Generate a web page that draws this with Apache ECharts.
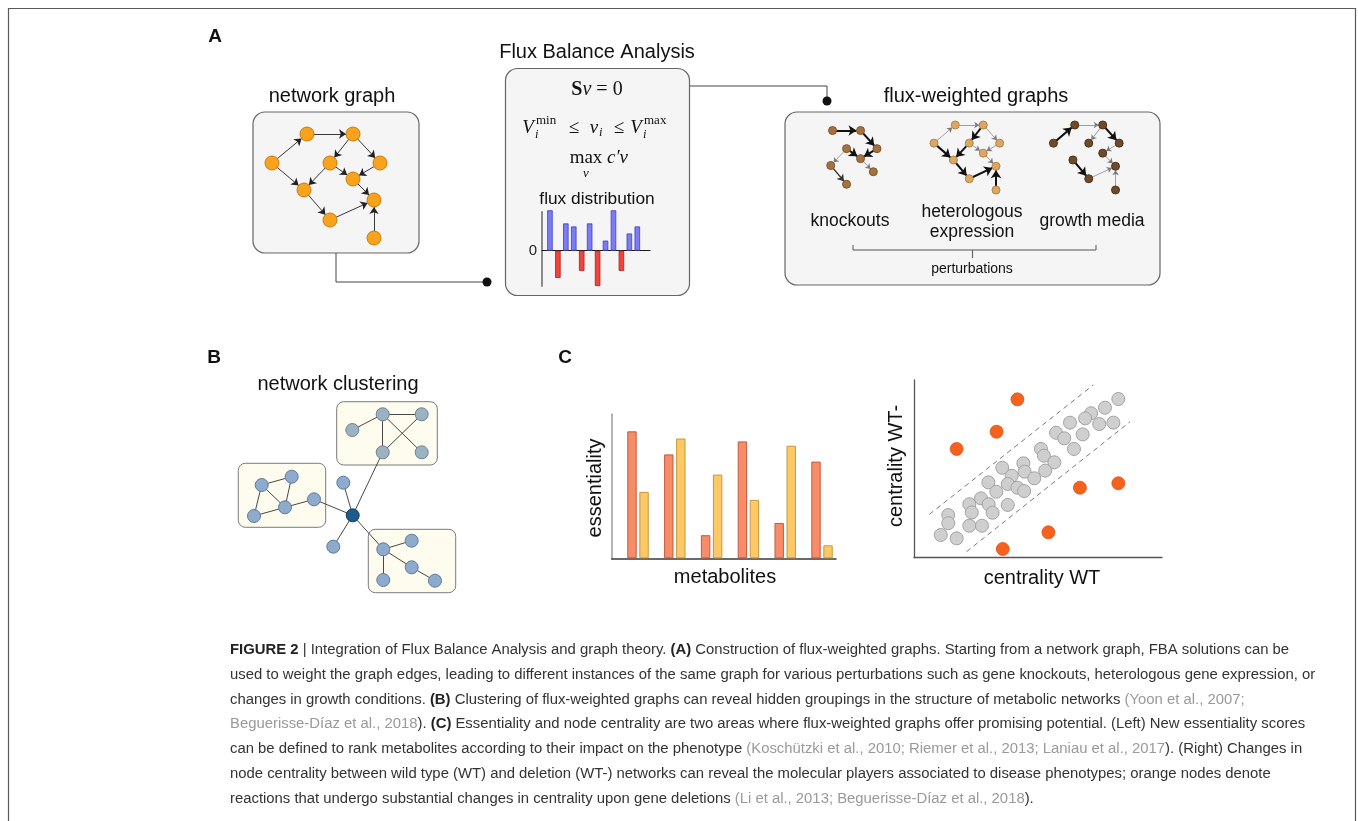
<!DOCTYPE html>
<html>
<head>
<meta charset="utf-8">
<script src="https://cdn.jsdelivr.net/npm/echarts@6.0.0/dist/echarts.min.js"></script>
<style>
html,body{margin:0;padding:0;background:#fff;overflow:hidden}
#chart{width:1358px;height:821px}
</style>
</head>
<body>
<div id="chart"></div>
<script>
// ---------------- data ----------------
// A: flux distribution (12 reactions)
const fluxReactions = [1,2,3,4,5,6,7,8,9,10,11,12];
const fluxValues = [40,-27,27,24,-20,27,-35,10,40,-20,17,24];

// C left: essentiality of 6 metabolites, two scores
const metabolites = [1,2,3,4,5,6];
const essentialityRed = [88,72,16,81,24.5,67];
const essentialityYellow = [46,83,58,40.5,78,9];

// C right: centrality WT vs WT-
const stableWT      = [82.4,77.0,71.4,69.0,62.9,74.7,80.4,57.3,60.6,68.0,64.5,51.2,52.4,56.6,44.1,35.6,44.6,39.4,52.9,48.5,30.0,37.8,41.7,44.4,33.2,27.0,22.3,30.1,37.8,23.3,31.7,13.8,13.8,22.3,27.4,10.8,17.2];
const stableWTminus = [89.3,84.4,81.3,78.4,76.0,75.2,76.0,70.3,67.2,69.4,61.2,61.2,57.4,53.7,53.1,50.6,48.4,46.1,49.0,44.7,42.4,41.5,39.4,37.5,37.1,33.4,30.1,30.1,29.7,25.5,25.3,24.0,19.4,18.0,18.0,12.8,10.9];
const changedWT      = [41.7,33.3,17.2,66.9,82.4,54.2,35.8];
const changedWTminus = [89.1,70.9,61.2,39.4,41.9,14.3,4.9];
const bandUpperWT = [6.2,72.3];
const bandUpperWTminus = [24.4,97.2];
const bandLowerWT = [21.2,87.1];
const bandLowerWTminus = [3.4,76.5];

// A: network graph layout (layout units)
const netNames = ['n1','n2','n3','n4','n5','n6','n7','n8','n9','n10'];
const netX = [19,54,100,77,127,100,51,121,77,121];
const netY = [51,22,22,51,51,67,78,88,108,126];
const netEdges = [['n1','n2'],['n2','n3'],['n3','n4'],['n3','n5'],['n4','n7'],['n4','n6'],['n5','n6'],['n1','n7'],['n6','n8'],['n7','n9'],['n9','n8'],['n10','n8']];

// A: flux-weighted graphs (edge weight 1 thin, 2 medium, 3 thick)
const knockoutNodes = ['n2','n3','n4','n5','n6','n7','n8','n9'];
const knockoutEdges = [['n2','n3',3],['n3','n5',3],['n4','n6',3],['n5','n6',3],['n4','n7',1],['n6','n8',1],['n7','n9',2]];
const heterologousNodes = netNames;
const heterologousEdges = [['n1','n2',1],['n2','n3',1],['n3','n4',3],['n3','n5',1],['n4','n7',3],['n4','n6',1],['n5','n6',1],['n1','n7',3],['n6','n8',1],['n7','n9',3],['n9','n8',3],['n10','n8',3]];
const growthNodes = netNames;
const growthEdges = [['n1','n2',3],['n2','n3',1],['n3','n4',1],['n3','n5',3],['n5','n6',1],['n6','n8',1],['n7','n9',3],['n9','n8',1],['n10','n8',1]];

// B: clustering network
const clusterNames = ['t1','t2','t3','t4','t5','l1','l2','l3','l4','l5','hub','f1','f2','b1','b2','b3','b4','b5'];
const clusterX = [122.3,152.7,191.7,152.7,191.7,31.7,61.7,24,55,84,122.7,113.3,103.3,153.3,181.7,181.7,205,153.3];
const clusterY = [40,24.3,24.3,62.3,62.3,95,86.7,126,117.3,109.3,125.3,92.7,156.7,159.3,150.7,177.3,190.7,190];
const clusterGroup = ['top','top','top','top','top','side','side','side','side','side','hub','side','side','side','side','side','side','side'];
const clusterEdges = [['t1','t2'],['t2','t3'],['t2','t4'],['t2','t5'],['t3','t4'],['l1','l2'],['l1','l3'],['l1','l4'],['l2','l4'],['l3','l4'],['l4','l5'],['hub','l5'],['hub','t4'],['hub','f1'],['hub','f2'],['hub','b1'],['b1','b2'],['b1','b3'],['b3','b4'],['b1','b5']];

// Caption
const captionLines = [
 '{b|FIGURE 2} | Integration of Flux Balance Analysis and graph theory. {b|(A)} Construction of flux-weighted graphs. Starting from a network graph, FBA solutions can be',
 'used to weight the graph edges, leading to different instances of the same graph for various perturbations such as gene knockouts, heterologous gene expression, or',
 'changes in growth conditions. {b|(B)} Clustering of flux-weighted graphs can reveal hidden groupings in the structure of metabolic networks {c|(Yoon et al., 2007;}',
 '{c|Beguerisse-Díaz et al., 2018}). {b|(C)} Essentiality and node centrality are two areas where flux-weighted graphs offer promising potential. (Left) New essentiality scores',
 'can be defined to rank metabolites according to their impact on the phenotype {c|(Koschützki et al., 2010; Riemer et al., 2013; Laniau et al., 2017}). (Right) Changes in',
 'node centrality between wild type (WT) and deletion (WT-) networks can reveal the molecular players associated to disease phenotypes; orange nodes denote',
 'reactions that undergo substantial changes in centrality upon gene deletions {c|(Li et al., 2013; Beguerisse-Díaz et al., 2018}).'
];

// ---------------- chart ----------------
const FONT = 'Liberation Sans, Arial, Helvetica, sans-serif';
const SERIF = 'Liberation Serif, Times New Roman, serif';

const measureCtx = document.createElement('canvas').getContext('2d');
measureCtx.font = '16px "Liberation Sans"';
const capW = measureCtx.measureText(captionLines[1]).width;
const capSize = 16 * 1086 / capW;
const capLH = 24.8;

const chart = echarts.init(document.getElementById('chart'), null, {renderer:'canvas', width:1358, height:821});

const grids = [
  {left:542, top:212, width:108, height:74},          // 0 flux distribution
  {left:611.7, top:414, width:224.3, height:144.3},   // 1 essentiality
  {left:914, top:380, width:248, height:177.7},       // 2 centrality
  {left:253, top:112, width:166, height:140},         // 3 network graph
  {left:799.7, top:116.75, width:101, height:87.5},   // 4 knockouts
  {left:922.4, top:111.25, width:101, height:87.5},   // 5 heterologous
  {left:1041.9, top:111.25, width:101, height:87.5},  // 6 growth media
  {left:230, top:390, width:240, height:210}          // 7 clustering
];

const noParts = {axisTick:{show:false}, axisLabel:{show:false}, splitLine:{show:false}};
function visAxis(gi, min, max, color, width, extra){
  return Object.assign({type:'value', gridIndex:gi, min, max,
    axisLine:{show:true, onZero:false, lineStyle:{color, width}}}, noParts, extra||{});
}
function hidAxis(gi, min, max, inverse){
  return {type:'value', gridIndex:gi, min, max, inverse:!!inverse, show:false, splitLine:{show:false}};
}

const xAxes = [
  visAxis(0, 0, 13.6, '#1a1a1a', 1.2, {axisLine:{show:true, onZero:true, lineStyle:{color:'#1a1a1a', width:1.2}}}),
  visAxis(1, 0.285, 6.38, '#3a3a3a', 1.5),
  visAxis(2, 0, 100, '#555', 1.3),
  hidAxis(3, 0, 166), hidAxis(4, 0, 166), hidAxis(5, 0, 166), hidAxis(6, 0, 166),
  hidAxis(7, 0, 240)
];
const yAxes = [
  visAxis(0, -35, 38.3, '#8a8a8a', 2, {axisLabel:{show:true, customValues:[0], fontSize:15, color:'#222', margin:5, fontFamily:FONT}}),
  visAxis(1, 0, 100, '#9a9a9a', 1.5),
  visAxis(2, 0, 100, '#555', 1.3),
  hidAxis(3, 0, 140, true), hidAxis(4, 0, 140, true), hidAxis(5, 0, 140, true), hidAxis(6, 0, 140, true),
  hidAxis(7, 0, 210, true)
];

function nodeData(names, color, border){
  return names.map(n => {
    const i = netNames.indexOf(n);
    return {name:n, value:[netX[i], netY[i]], itemStyle:{color, borderColor:border, borderWidth:1}};
  });
}
function weightedLinks(edges){
  const w = {1:0.7, 2:1.3, 3:2};
  const c = {1:'#7a7a7a', 2:'#333', 3:'#111'};
  const s = {1:5, 2:6.5, 3:8};
  return edges.map(e => ({source:e[0], target:e[1], lineStyle:{width:w[e[2]], color:c[e[2]]}, symbolSize:[0, s[e[2]]]}));
}
function graphBase(gi){
  return {type:'graph', layout:'none', coordinateSystem:'cartesian2d', xAxisIndex:gi, yAxisIndex:gi,
    label:{show:false}, emphasis:{disabled:true}, silent:true, animation:false,
    edgeSymbol:['none','arrow'], lineStyle:{color:'#222', width:0.9, opacity:1, curveness:0}};
}

const series = [
  // flux distribution bars
  {type:'bar', xAxisIndex:0, yAxisIndex:0, barWidth:5.5, clip:false, silent:true,
   data: fluxReactions.map((r,i) => ({value:[r, fluxValues[i]],
     itemStyle: fluxValues[i] >= 0 ? {color:'#7b7cf6', borderColor:'#4040b8', borderWidth:0.8}
                                   : {color:'#f2433d', borderColor:'#a82020', borderWidth:0.8}}))},
  // essentiality
  {type:'bar', xAxisIndex:1, yAxisIndex:1, barWidth:9.4, barGap:'28%', silent:true,
   itemStyle:{color:'#f98c68', borderColor:'#c35a3e', borderWidth:1},
   data: metabolites.map((m,i) => [m, essentialityRed[i]])},
  {type:'bar', xAxisIndex:1, yAxisIndex:1, barWidth:9.4, barGap:'28%', silent:true,
   itemStyle:{color:'#fdc967', borderColor:'#c8963c', borderWidth:1},
   data: metabolites.map((m,i) => [m, essentialityYellow[i]])},
  // centrality band
  {type:'line', xAxisIndex:2, yAxisIndex:2, symbol:'none', silent:true, z:1,
   lineStyle:{color:'#6a6a6a', width:0.9, type:[5,4]},
   data: bandUpperWT.map((x,i) => [x, bandUpperWTminus[i]])},
  {type:'line', xAxisIndex:2, yAxisIndex:2, symbol:'none', silent:true, z:1,
   lineStyle:{color:'#6a6a6a', width:0.9, type:[5,4]},
   data: bandLowerWT.map((x,i) => [x, bandLowerWTminus[i]])},
  {type:'scatter', xAxisIndex:2, yAxisIndex:2, symbolSize:13, silent:true,
   itemStyle:{color:'#cfcfcf', borderColor:'#a3a3a3', borderWidth:1, opacity:1},
   data: stableWT.map((x,i) => [x, stableWTminus[i]])},
  {type:'scatter', xAxisIndex:2, yAxisIndex:2, symbolSize:13, silent:true,
   itemStyle:{color:'#f4621d', borderColor:'#dd5418', borderWidth:0.8, opacity:1},
   data: changedWT.map((x,i) => [x, changedWTminus[i]])},
  // network graph
  Object.assign(graphBase(3), {symbolSize:14, edgeSymbolSize:[0,7],
    data: nodeData(netNames, '#f9a21c', '#c47d12'),
    links: netEdges.map(e => ({source:e[0], target:e[1]}))}),
  Object.assign(graphBase(4), {symbolSize:8,
    data: nodeData(knockoutNodes, '#a3723f', '#80552b'), links: weightedLinks(knockoutEdges)}),
  Object.assign(graphBase(5), {symbolSize:8,
    data: nodeData(heterologousNodes, '#dca766', '#b88443'), links: weightedLinks(heterologousEdges)}),
  Object.assign(graphBase(6), {symbolSize:8,
    data: nodeData(growthNodes, '#6f4b2a', '#4e331c'), links: weightedLinks(growthEdges)}),
  // clustering
  Object.assign(graphBase(7), {symbolSize:13, edgeSymbol:['none','none'],
    lineStyle:{color:'#333', width:0.9, opacity:1},
    data: clusterNames.map((n,i) => ({name:n, value:[clusterX[i], clusterY[i]],
      symbolSize: 13,
      itemStyle: clusterGroup[i]==='hub' ? {color:'#1e5a8c', borderColor:'#123d63', borderWidth:1}
               : clusterGroup[i]==='top' ? {color:'#9db2c1', borderColor:'#6d8395', borderWidth:1}
               : {color:'#8eaacc', borderColor:'#5f7c9c', borderWidth:1}})),
    links: clusterEdges.map(e => ({source:e[0], target:e[1]}))})
];

// ---------------- graphics ----------------
const g = [];
function box(x,y,w,h,r,fill,stroke){
  g.push({type:'rect', z:0, silent:true, shape:{x,y,width:w,height:h,r}, style:{fill, stroke, lineWidth:1.2}});
}
function txt(x,y,text,size,opt){
  opt = opt || {};
  g.push({type:'text', x, y, z:20, silent:true, rotation: opt.rotation || 0,
    style:{text, fontSize:size, fontFamily: opt.family || FONT, fontWeight: opt.weight || 'normal',
      fontStyle: opt.italic ? 'italic' : 'normal',
      fill: opt.color || '#111', align: opt.align || 'center', verticalAlign: opt.valign || 'middle'}});
}
function line(points, color, width){
  g.push({type:'polyline', z:1, silent:true, shape:{points}, style:{stroke:color||'#444', lineWidth:width||1, fill:null}});
}
function dot(cx,cy){
  g.push({type:'circle', z:2, silent:true, shape:{cx,cy,r:4.5}, style:{fill:'#111'}});
}

// outer frame
g.push({type:'rect', z:0, silent:true, shape:{x:8.5,y:8.5,width:1347,height:840}, style:{fill:'none', stroke:'#5a5a5a', lineWidth:1.2}});

// panel A
box(253,112,166,141,12,'#f5f5f5','#666');
box(505.5,68.5,184,227,12,'#f5f5f5','#666');
box(785,112,375,173,12,'#f5f5f5','#666');
line([[336,253],[336,282],[487,282]], '#444', 1);
dot(487,282);
line([[690,86],[827,86],[827,101]], '#444', 1);
dot(827,101);
line([[853,245],[853,250],[1096,250],[1096,245]], '#555', 1);
line([[972.5,250],[972.5,258]], '#666', 1.2);

txt(215,37,'A',19,{weight:'bold'});
txt(597,52,'Flux Balance Analysis',20);
txt(332,96,'network graph',20);
txt(976,96,'flux-weighted graphs',20);
txt(597,199,'flux distribution',17.3);
txt(850,221,'knockouts',17.5);
txt(972,212,'heterologous',17.5);
txt(972,232,'expression',17.5);
txt(1092,221,'growth media',17.5);
txt(972,269,'perturbations',14);

// FBA formulas
g.push({type:'text', x:597, y:90, z:20, silent:true,
  style:{text:'{b|S}{i|v}{r| = 0}', align:'center', verticalAlign:'middle',
    rich:{b:{fontFamily:SERIF, fontWeight:'bold', fontSize:20, fill:'#111'},
          i:{fontFamily:SERIF, fontStyle:'italic', fontSize:20, fill:'#111'},
          r:{fontFamily:SERIF, fontSize:20, fill:'#111'}}}});
const fm = {family:SERIF};
txt(528,128,'V',19,{family:SERIF, italic:true});
txt(536,121,'min',13,{family:SERIF, align:'left'});
txt(535,135,'i',12.5,{family:SERIF, italic:true, align:'left'});
txt(574,128,'≤',19,fm);
txt(594,128,'v',19,{family:SERIF, italic:true});
txt(599,133,'i',12.5,{family:SERIF, italic:true, align:'left'});
txt(619,128,'≤',19,fm);
txt(636,128,'V',19,{family:SERIF, italic:true});
txt(644,121,'max',13,{family:SERIF, align:'left'});
txt(643,135,'i',12.5,{family:SERIF, italic:true, align:'left'});
txt(586,158,'max',19,fm);
txt(607,158,'c′v',19,{family:SERIF, italic:true, align:'left'});
txt(586,174,'v',13,{family:SERIF, italic:true});

// panel B
txt(214,358,'B',19,{weight:'bold'});
txt(338,384,'network clustering',20);
g.push({type:'rect', z:0, silent:true, shape:{x:336.7,y:401.7,width:100.6,height:63.3,r:7}, style:{fill:'#fdfcef', stroke:'#7a7a7a', lineWidth:1}});
g.push({type:'rect', z:0, silent:true, shape:{x:238.3,y:463.3,width:87.4,height:64,r:7}, style:{fill:'#fdfcef', stroke:'#7a7a7a', lineWidth:1}});
g.push({type:'rect', z:0, silent:true, shape:{x:368.3,y:529.3,width:87.4,height:63.4,r:7}, style:{fill:'#fdfcef', stroke:'#7a7a7a', lineWidth:1}});

// panel C
txt(565,358,'C',19,{weight:'bold'});
txt(595,488,'essentiality',20,{rotation:Math.PI/2});
txt(725,577,'metabolites',20);
txt(896,466,'centrality WT-',20,{rotation:Math.PI/2});
txt(1042,578,'centrality WT',20);

// caption
g.push({type:'text', x:230, y:650 - capLH/2, z:20, silent:true,
  style:{text: captionLines.join('\n'), fontSize:capSize, fontFamily:FONT, fill:'#333',
    lineHeight:capLH, align:'left', verticalAlign:'top',
    rich:{b:{fontSize:capSize, fontFamily:FONT, fontWeight:'bold', fill:'#222', lineHeight:capLH},
          c:{fontSize:capSize, fontFamily:FONT, fill:'#9a9a9a', lineHeight:capLH}}}});

chart.setOption({
  animation:false,
  backgroundColor:'#ffffff',
  grid: grids,
  xAxis: xAxes,
  yAxis: yAxes,
  series: series,
  graphic: {elements: g}
});
</script>
</body>
</html>
